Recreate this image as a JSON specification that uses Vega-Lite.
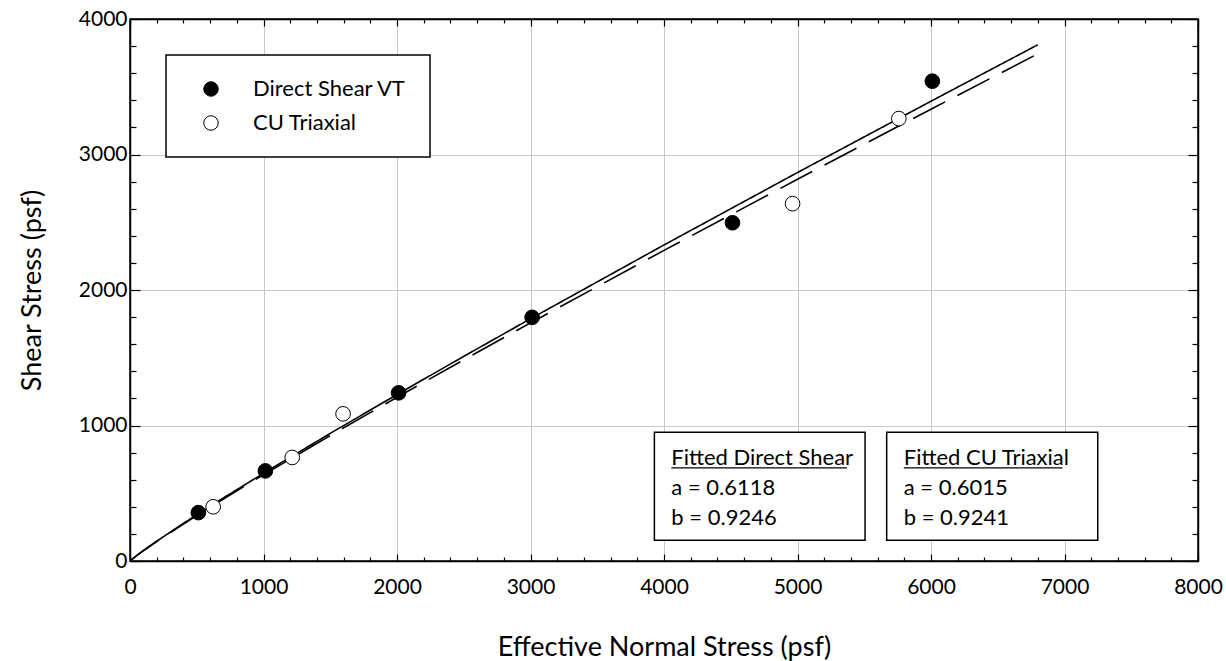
{
  "$schema": "https://vega.github.io/schema/vega-lite/v6.json",
  "width": 1068,
  "height": 542,
  "autosize": {"type": "none"},
  "padding": {"left": 130, "top": 19, "right": 28, "bottom": 100},
  "background": "white",
  "config": {
    "font": "Lato",
    "view": {"stroke": "black", "strokeWidth": 1.5},
    "axis": {
      "labelFont": "Lato",
      "labelFontSize": 21,
      "labelColor": "black",
      "titleFont": "Lato",
      "titleFontSize": 27,
      "titleFontWeight": "normal",
      "titleColor": "black",
      "domainColor": "black",
      "domainWidth": 1.5,
      "tickColor": "black",
      "tickWidth": 1.2,
      "gridColor": "#c8c8c8",
      "gridWidth": 1
    },
    "legend": {
      "orient": "none",
      "legendX": 36,
      "legendY": 36,
      "strokeColor": "black",
      "strokeWidth": 1.5,
      "fillColor": "white",
      "padding": 23,
      "symbolOffset": 11,
      "labelOffset": 31,
      "rowPadding": 12,
      "labelFont": "Lato",
      "labelFontSize": 22,
      "labelColor": "black",
      "symbolSize": 210,
      "symbolType": "circle",
      "symbolStrokeColor": "black",
      "symbolStrokeWidth": 1
    }
  },
  "datasets": {
    "points": [
      {"series": "Direct Shear VT", "stress": 512, "shear": 357},
      {"series": "Direct Shear VT", "stress": 1014, "shear": 665},
      {"series": "Direct Shear VT", "stress": 2012, "shear": 1241},
      {"series": "Direct Shear VT", "stress": 3012, "shear": 1798},
      {"series": "Direct Shear VT", "stress": 4513, "shear": 2496},
      {"series": "Direct Shear VT", "stress": 6010, "shear": 3541},
      {"series": "CU Triaxial", "stress": 623, "shear": 400},
      {"series": "CU Triaxial", "stress": 1215, "shear": 764},
      {"series": "CU Triaxial", "stress": 1596, "shear": 1086},
      {"series": "CU Triaxial", "stress": 4963, "shear": 2637},
      {"series": "CU Triaxial", "stress": 5759, "shear": 3265}
    ],
    "fits": [
      {"series": "Fitted Direct Shear", "stress": 0, "shear": 0},
      {"series": "Fitted Direct Shear", "stress": 50, "shear": 40.6},
      {"series": "Fitted Direct Shear", "stress": 100, "shear": 77.0},
      {"series": "Fitted Direct Shear", "stress": 200, "shear": 146.2},
      {"series": "Fitted Direct Shear", "stress": 400, "shear": 277.5},
      {"series": "Fitted Direct Shear", "stress": 700, "shear": 465.5},
      {"series": "Fitted Direct Shear", "stress": 1000, "shear": 647.4},
      {"series": "Fitted Direct Shear", "stress": 1500, "shear": 941.8},
      {"series": "Fitted Direct Shear", "stress": 2000, "shear": 1228.8},
      {"series": "Fitted Direct Shear", "stress": 2500, "shear": 1510.3},
      {"series": "Fitted Direct Shear", "stress": 3000, "shear": 1787.7},
      {"series": "Fitted Direct Shear", "stress": 4000, "shear": 2332.4},
      {"series": "Fitted Direct Shear", "stress": 5000, "shear": 2866.9},
      {"series": "Fitted Direct Shear", "stress": 6000, "shear": 3393.3},
      {"series": "Fitted Direct Shear", "stress": 6800, "shear": 3809.8},
      {"series": "Fitted CU Triaxial", "stress": 0, "shear": 0},
      {"series": "Fitted CU Triaxial", "stress": 50, "shear": 40.0},
      {"series": "Fitted CU Triaxial", "stress": 100, "shear": 75.8},
      {"series": "Fitted CU Triaxial", "stress": 200, "shear": 143.9},
      {"series": "Fitted CU Triaxial", "stress": 400, "shear": 273.0},
      {"series": "Fitted CU Triaxial", "stress": 700, "shear": 457.9},
      {"series": "Fitted CU Triaxial", "stress": 1000, "shear": 636.7},
      {"series": "Fitted CU Triaxial", "stress": 1500, "shear": 926.1},
      {"series": "Fitted CU Triaxial", "stress": 2000, "shear": 1208.1},
      {"series": "Fitted CU Triaxial", "stress": 2500, "shear": 1484.8},
      {"series": "Fitted CU Triaxial", "stress": 3000, "shear": 1757.3},
      {"series": "Fitted CU Triaxial", "stress": 4000, "shear": 2292.4},
      {"series": "Fitted CU Triaxial", "stress": 5000, "shear": 2817.4},
      {"series": "Fitted CU Triaxial", "stress": 6000, "shear": 3334.4},
      {"series": "Fitted CU Triaxial", "stress": 6800, "shear": 3743.4}
    ],
    "one": [{"k": 1}]
  },
  "layer": [
    {
      "data": {"name": "fits"},
      "mark": {"type": "line", "color": "black", "strokeWidth": 1.6, "clip": true},
      "encoding": {
        "x": {
          "field": "stress", "type": "quantitative",
          "scale": {"domain": [0, 8000], "nice": false, "zero": false},
          "axis": {
            "orient": "bottom",
            "title": "Effective Normal Stress (psf)",
            "values": [0,200,400,600,800,1000,1200,1400,1600,1800,2000,2200,2400,2600,2800,3000,3200,3400,3600,3800,4000,4200,4400,4600,4800,5000,5200,5400,5600,5800,6000,6200,6400,6600,6800,7000,7200,7400,7600,7800,8000],
            "format": "d",
            "labelExpr": "datum.value % 1000 === 0 ? datum.label : ''",
            "tickSize": {"condition": {"test": "datum.value % 1000 === 0", "value": -7}, "value": -4},
            "grid": true,
            "gridOpacity": {"condition": {"test": "datum.value % 1000 === 0 && datum.value > 0 && datum.value < 8000", "value": 1}, "value": 0},
            "labelPadding": 22,
            "titlePadding": 34,
            "labelFlush": false,
            "labelOverlap": false
          }
        },
        "y": {
          "field": "shear", "type": "quantitative",
          "scale": {"domain": [0, 4000], "nice": false, "zero": false},
          "axis": {
            "orient": "left",
            "title": "Shear Stress (psf)",
            "values": [0,200,400,600,800,1000,1200,1400,1600,1800,2000,2200,2400,2600,2800,3000,3200,3400,3600,3800,4000],
            "format": "d",
            "labelExpr": "datum.value % 1000 === 0 ? datum.label : ''",
            "tickSize": {"condition": {"test": "datum.value % 1000 === 0", "value": -10}, "value": -6},
            "grid": true,
            "gridOpacity": {"condition": {"test": "datum.value % 1000 === 0 && datum.value > 0 && datum.value < 4000", "value": 1}, "value": 0},
            "labelPadding": 13,
            "titlePadding": 32,
            "labelFlush": false,
            "labelOverlap": false
          }
        },
        "strokeDash": {
          "field": "series", "type": "nominal",
          "scale": {"domain": ["Fitted Direct Shear", "Fitted CU Triaxial"], "range": [[1, 0], [36, 14]]},
          "legend": null
        },
        "detail": {"field": "series"}
      }
    },
    {
      "data": {"name": "points"},
      "mark": {"type": "point", "filled": true, "shape": "circle", "size": 215, "stroke": "black", "strokeWidth": 1, "opacity": 1},
      "encoding": {
        "x": {
          "field": "stress", "type": "quantitative",
          "axis": {
            "orient": "top",
            "title": null,
            "labels": false,
            "grid": false,
            "values": [0,200,400,600,800,1000,1200,1400,1600,1800,2000,2200,2400,2600,2800,3000,3200,3400,3600,3800,4000,4200,4400,4600,4800,5000,5200,5400,5600,5800,6000,6200,6400,6600,6800,7000,7200,7400,7600,7800,8000],
            "tickSize": {"condition": {"test": "datum.value % 1000 === 0", "value": -7}, "value": -4}
          }
        },
        "y": {
          "field": "shear", "type": "quantitative",
          "axis": {
            "orient": "right",
            "title": null,
            "labels": false,
            "grid": false,
            "values": [0,200,400,600,800,1000,1200,1400,1600,1800,2000,2200,2400,2600,2800,3000,3200,3400,3600,3800,4000],
            "tickSize": {"condition": {"test": "datum.value % 1000 === 0", "value": -10}, "value": -6}
          }
        },
        "fill": {
          "field": "series", "type": "nominal",
          "scale": {"domain": ["Direct Shear VT", "CU Triaxial"], "range": ["black", "white"]},
          "legend": {"title": null}
        }
      }
    },
    {
      "data": {"name": "one"},
      "mark": {"type": "rect", "fill": "white", "stroke": "black", "strokeWidth": 1.5},
      "encoding": {
        "x": {"datum": 3928, "type": "quantitative", "axis": null},
        "x2": {"datum": 5506},
        "y": {"datum": 950, "type": "quantitative", "axis": null},
        "y2": {"datum": 153}
      }
    },
    {
      "data": {"name": "one"},
      "mark": {"type": "rect", "fill": "white", "stroke": "black", "strokeWidth": 1.5},
      "encoding": {
        "x": {"datum": 5668, "type": "quantitative", "axis": null},
        "x2": {"datum": 7249},
        "y": {"datum": 950, "type": "quantitative", "axis": null},
        "y2": {"datum": 153}
      }
    },
    {
      "data": {"name": "one"},
      "mark": {"type": "text", "font": "Lato", "fontSize": 22, "align": "left", "baseline": "alphabetic", "lineHeight": 30, "color": "black", "text": ["Fitted Direct Shear", "a = 0.6118", "b = 0.9246"]},
      "encoding": {
        "x": {"datum": 4055, "type": "quantitative", "axis": null},
        "y": {"datum": 707, "type": "quantitative", "axis": null}
      }
    },
    {
      "data": {"name": "one"},
      "mark": {"type": "text", "font": "Lato", "fontSize": 22, "align": "left", "baseline": "alphabetic", "lineHeight": 30, "color": "black", "text": ["Fitted CU Triaxial", "a = 0.6015", "b = 0.9241"]},
      "encoding": {
        "x": {"datum": 5796, "type": "quantitative", "axis": null},
        "y": {"datum": 707, "type": "quantitative", "axis": null}
      }
    },
    {
      "data": {"name": "one"},
      "mark": {"type": "rule", "color": "black", "strokeWidth": 1.3},
      "encoding": {
        "x": {"datum": 4055, "type": "quantitative", "axis": null},
        "x2": {"datum": 5370},
        "y": {"datum": 687, "type": "quantitative", "axis": null}
      }
    },
    {
      "data": {"name": "one"},
      "mark": {"type": "rule", "color": "black", "strokeWidth": 1.3},
      "encoding": {
        "x": {"datum": 5796, "type": "quantitative", "axis": null},
        "x2": {"datum": 6984},
        "y": {"datum": 687, "type": "quantitative", "axis": null}
      }
    }
  ],
  "resolve": {"axis": {"x": "independent", "y": "independent"}}
}
